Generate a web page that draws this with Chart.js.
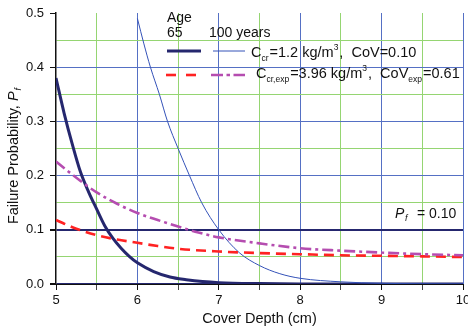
<!DOCTYPE html>
<html><head><meta charset="utf-8">
<script src="https://cdn.jsdelivr.net/npm/chart.js@4.4.0/dist/chart.umd.min.js"></script>
<style>html,body{margin:0;padding:0;background:#fff}canvas{display:block}</style>
</head><body>
<canvas id="c" width="468" height="328"></canvas>
<script>
// ---- data ----
const xTickLabels = ['5','6','7','8','9','10'];
const yTickLabels = ['0.0','0.1','0.2','0.3','0.4','0.5'];

// Ccr = 1.2 kg/m3, CoV = 0.10, age 65 years (thick navy)
const cr65X = [5.0,5.1,5.2,5.3,5.4,5.5,5.6,5.7,5.8,5.9,6.0,6.2,6.4,6.6,6.8,7.0,7.5,8.0,9.0,10.0];
const cr65Y = [0.38,0.315,0.258,0.207,0.170,0.138,0.107,0.084,0.066,0.051,0.039,0.023,0.013,0.008,0.0045,0.0025,0.0008,0.0002,0.0,0.0];

// Ccr = 1.2 kg/m3, CoV = 0.10, age 100 years (thin blue)
const cr100X = [6.0,6.08,6.16,6.27,6.37,6.5,6.64,6.79,7.0,7.25,7.5,7.75,8.0,8.5,9.0,9.5,10.0];
const cr100Y = [0.49,0.443,0.40,0.35,0.30,0.25,0.20,0.15,0.10,0.058,0.034,0.019,0.0105,0.004,0.0013,0.0004,0.0001];

// Ccr,exp = 3.96 kg/m3, CoVexp = 0.61, age 65 years (red dashed)
const exp65X = [5.0,5.25,5.5,5.75,6.0,6.25,6.5,7.0,7.5,8.0,8.5,9.0,9.5,10.0];
const exp65Y = [0.118,0.102,0.090,0.082,0.076,0.070,0.065,0.060,0.057,0.055,0.053,0.052,0.051,0.0498];

// Ccr,exp = 3.96 kg/m3, CoVexp = 0.61, age 100 years (magenta dash-dot)
const exp100X = [5.0,5.25,5.5,5.75,6.0,6.25,6.5,6.75,7.0,7.5,8.0,8.5,9.0,9.5,10.0];
const exp100Y = [0.226,0.196,0.169,0.148,0.131,0.118,0.106,0.095,0.086,0.075,0.066,0.0615,0.058,0.055,0.053];

const pfLimit = 0.10;

// ---- build ----
const pts = (xs, ys) => xs.map((x, i) => ({x, y: ys[i]}));
const FONT = "'Liberation Sans', Arial, sans-serif";
const NAVY = '#25276e', THIN = '#3452b8', RED = '#ff2222', MAG = '#b54db0';
const GRID_MAJ = '#5570c4', GRID_MIN = '#95d572';

const isMajor = (v, step) => Math.abs(v / step - Math.round(v / step)) < 1e-6;

const decorPlugin = {
  id: 'decor',
  afterDraw(chart) {
    const ctx = chart.ctx;
    ctx.save();
    ctx.fillStyle = '#111';
    ctx.textBaseline = 'alphabetic';
    // y-axis title
    ctx.save();
    ctx.translate(18, 156);
    ctx.rotate(-Math.PI / 2);
    const t1 = 'Failure Probability, ';
    ctx.font = '14.5px ' + FONT; const w1 = ctx.measureText(t1).width;
    ctx.font = 'italic 14.5px ' + FONT; const w2 = ctx.measureText('P').width;
    ctx.font = 'italic 9px ' + FONT; const w3 = ctx.measureText('f').width;
    let x0 = -(w1 + w2 + w3 + 1) / 2;
    ctx.font = '14.5px ' + FONT; ctx.fillText(t1, x0, 0); x0 += w1;
    ctx.font = 'italic 14.5px ' + FONT; ctx.fillText('P', x0, 0); x0 += w2 + 1;
    ctx.font = 'italic 9px ' + FONT; ctx.fillText('f', x0, 3);
    ctx.restore();

    // Pf = 0.10 label
    ctx.font = 'italic 14px ' + FONT; ctx.fillText('P', 395, 218);
    ctx.font = 'italic 9px ' + FONT; ctx.fillText('f', 405, 221);
    ctx.font = '14px ' + FONT; ctx.fillText('= 0.10', 417, 218);

    // legend
    ctx.font = '14px ' + FONT;
    ctx.fillText('Age', 167, 22);
    ctx.fillText('65', 167, 37);
    ctx.fillText('100 years', 209, 37);

    const seg = (x, y, parts) => {
      for (const [txt, kind] of parts) {
        let f = '14.5px ', dy = 0;
        if (kind === 'sub') { f = '8.5px '; dy = 4; }
        if (kind === 'sup') { f = '8.5px '; dy = -7; }
        ctx.font = f + FONT;
        ctx.fillText(txt, x, y + dy);
        x += ctx.measureText(txt).width + (kind ? 1 : 0);
      }
    };
    seg(251, 56.5, [['C'], ['cr', 'sub'], ['=1.2 kg/m'], ['3', 'sup'], [',  CoV=0.10']]);
    seg(256, 77.5, [['C'], ['cr,exp', 'sub'], ['=3.96 kg/m'], ['3', 'sup'], [',  CoV'], ['exp', 'sub'], ['=0.61']]);

    const line = (x1, x2, y, color, w, dash) => {
      ctx.beginPath(); ctx.strokeStyle = color; ctx.lineWidth = w; ctx.setLineDash(dash);
      ctx.moveTo(x1, y); ctx.lineTo(x2, y); ctx.stroke();
    };
    line(167, 201, 51, NAVY, 3, []);
    line(213, 245, 51, THIN, 1, []);
    line(166, 197, 75, RED, 2.6, [10, 10]);
    line(211, 245, 75, MAG, 2.6, [12, 3.5, 3.5, 3.5]);
    ctx.restore();
  }
};

new Chart(document.getElementById('c'), {
  type: 'scatter',
  data: {
    datasets: [
      {data: pts(exp100X, exp100Y), borderColor: MAG, borderWidth: 2.6, borderDash: [11, 4, 3, 4]},
      {data: pts(exp65X, exp65Y), borderColor: RED, borderWidth: 2.6, borderDash: [10, 6]},
      {data: pts(cr100X, cr100Y), borderColor: THIN, borderWidth: 1},
      {data: pts(cr65X, cr65Y), borderColor: NAVY, borderWidth: 3}
    ].map(d => Object.assign(d, {showLine: true, pointRadius: 0, fill: false, cubicInterpolationMode: 'monotone'}))
  },
  options: {
    responsive: false, animation: false, devicePixelRatio: 1,
    layout: {padding: {left: 0, right: 5, top: 13, bottom: 0}},
    plugins: {legend: {display: false}, tooltip: {enabled: false}},
    scales: {
      x: {
        type: 'linear', min: 5, max: 10,
        ticks: {
          stepSize: 0.5, autoSkip: false, maxRotation: 0, padding: 3, color: '#111',
          font: {family: FONT, size: 13},
          callback: v => isMajor(v, 1) ? xTickLabels[Math.round(v) - 5] : ''
        },
        grid: {
          color: c => { const v = c.tick.value; if (v <= 5) return 'rgba(0,0,0,0)'; return isMajor(v, 1) ? GRID_MAJ : GRID_MIN; },
          tickColor: c => isMajor(c.tick.value, 1) ? '#111' : '#444',
          tickLength: 6, lineWidth: 1
        },
        border: {color: '#111', width: 1},
        title: {display: true, text: 'Cover Depth (cm)', color: '#111', font: {family: FONT, size: 14.5}, padding: 0},
        afterFit: s => { s.height = 44; s.paddingLeft = 0; s.paddingRight = 0; }
      },
      y: {
        type: 'linear', min: 0, max: 0.5,
        ticks: {
          stepSize: 0.05, autoSkip: false, padding: 6, color: '#111',
          font: {family: FONT, size: 13},
          callback: v => isMajor(v, 0.1) ? yTickLabels[Math.round(v * 10)] : ''
        },
        grid: {
          color: c => {
            const v = c.tick.value;
            if (v >= 0.5 - 1e-9) return 'rgba(0,0,0,0)';
            if (Math.abs(v - pfLimit) < 1e-9 || v < 1e-9) return NAVY;
            return isMajor(v, 0.1) ? GRID_MAJ : GRID_MIN;
          },
          lineWidth: c => { const v = c.tick.value; return (Math.abs(v - pfLimit) < 1e-9 || v < 1e-9) ? 2 : 1; },
          tickColor: c => isMajor(c.tick.value, 0.1) ? '#111' : 'rgba(0,0,0,0)',
          tickLength: 6
        },
        border: {color: '#111', width: 1.5},
        afterFit: s => { s.width = 56; s.paddingTop = 0; s.paddingBottom = 0; }
      }
    }
  },
  plugins: [decorPlugin]
});
</script>
</body></html>
